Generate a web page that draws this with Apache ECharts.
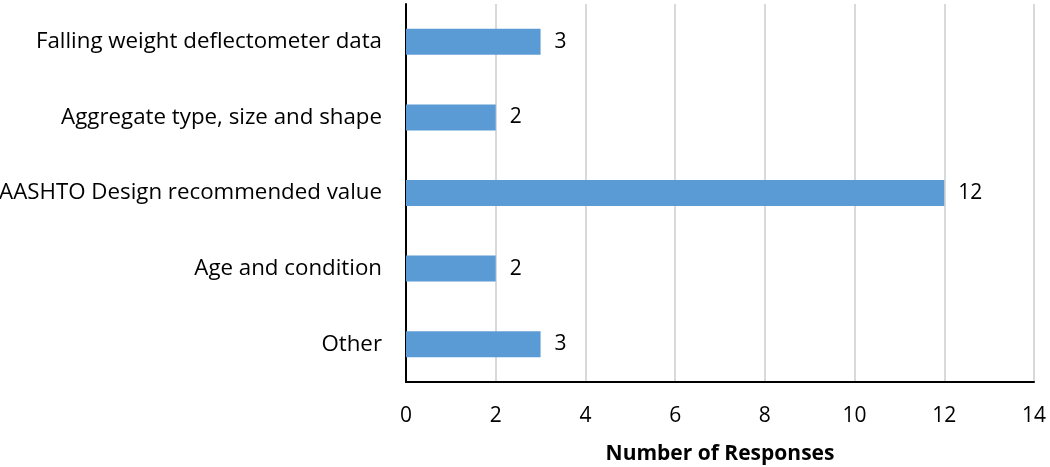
<!DOCTYPE html>
<html lang="en">
<head>
<meta charset="UTF-8">
<title>Number of Responses</title>
<script src="https://cdn.jsdelivr.net/npm/echarts@6/dist/echarts.min.js"></script>
<style>
  html, body { margin: 0; padding: 0; background: #fff; }
  #chart { width: 1050px; height: 467px; }
</style>
</head>
<body>
<div id="chart"></div>
<script>
  // categories from bottom to top (y axis category order)
  var categories = ['Other', 'Age and condition', 'AASHTO Design recommended value',
    'Aggregate type, size and shape', 'Falling weight deflectometer data'];
  var responses = [3, 2, 12, 2, 3];
  var xTicks = [0, 2, 4, 6, 8, 10, 12, 14];

  var font = '"Open Sans", "Liberation Sans", sans-serif';
  var myChart = echarts.init(document.getElementById('chart'));
  var option = {
    animation: false,
    grid: { left: 406, right: 16, top: 4, height: 378, outerBoundsMode: 'none' },
    xAxis: {
      type: 'value',
      min: xTicks[0],
      max: xTicks[xTicks.length - 1],
      interval: 2,
      name: 'Number of Responses',
      nameLocation: 'middle',
      nameGap: 62,
      nameTextStyle: { fontFamily: font, fontSize: 21, fontWeight: 'bold', color: '#000' },
      axisLine: { show: true, lineStyle: { color: '#000', width: 2 } },
      axisTick: { show: false },
      axisLabel: { fontFamily: font, fontSize: 21, color: '#000', margin: 24 },
      splitLine: { show: true, lineStyle: { color: '#d9d9d9', width: 2 } }
    },
    yAxis: {
      type: 'category',
      data: categories,
      axisLine: { show: true, lineStyle: { color: '#000', width: 2 } },
      axisTick: { show: false },
      axisLabel: { fontFamily: font, fontSize: 22.3, color: '#000', margin: 24 }
    },
    series: [{
      type: 'bar',
      data: responses,
      barWidth: 26,
      itemStyle: { color: '#5b9bd5' },
      label: {
        show: true,
        position: 'right',
        distance: 14,
        fontFamily: font,
        fontSize: 21,
        color: '#000'
      }
    }]
  };
  myChart.setOption(option);
</script>
</body>
</html>
